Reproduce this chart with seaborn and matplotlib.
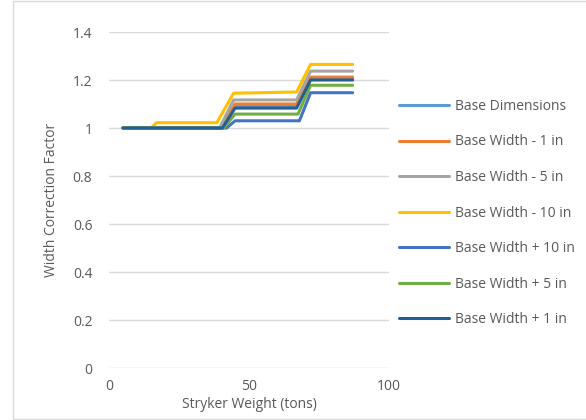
import matplotlib
matplotlib.use("Agg")
import matplotlib.pyplot as plt
import seaborn as sns
import pandas as pd
from matplotlib.patches import Rectangle

sns.set_theme(style="white")
plt.rcParams['font.family'] = ['Open Sans', 'DejaVu Sans']

series_names = ["Base Dimensions", "Base Width - 1 in", "Base Width - 5 in",
                "Base Width - 10 in", "Base Width + 10 in", "Base Width + 5 in",
                "Base Width + 1 in"]
colors = ["#5B9BD5", "#ED7D31", "#A5A5A5", "#FFC000", "#4472C4", "#70AD47", "#255E91"]

x_base = [5, 15, 17, 40, 45, 67, 72, 87]
x_m1 = [5, 15, 17, 40, 45, 67, 72, 87]
x_m5 = [5, 15, 17, 39.5, 44.5, 67, 72, 87]
x_m10 = [5, 15, 17, 38.5, 44.5, 67, 72, 87]
x_p10 = [5, 15, 17, 42, 45, 68, 72, 87]
x_p5 = [5, 15, 17, 41, 45, 67.5, 72, 87]
x_p1 = [5, 15, 17, 40.5, 45, 67, 72, 87]

y_base = [1.0, 1.0, 1.0, 1.0, 1.09, 1.09, 1.205, 1.205]
y_m1 = [1.0, 1.0, 1.0, 1.0, 1.10, 1.10, 1.212, 1.212]
y_m5 = [1.0, 1.0, 1.0, 1.0, 1.117, 1.117, 1.237, 1.237]
y_m10 = [1.0, 1.0, 1.022, 1.022, 1.145, 1.15, 1.265, 1.265]
y_p10 = [1.0, 1.0, 1.0, 1.0, 1.03, 1.03, 1.147, 1.147]
y_p5 = [1.0, 1.0, 1.0, 1.0, 1.058, 1.058, 1.178, 1.178]
y_p1 = [1.0, 1.0, 1.0, 1.0, 1.083, 1.083, 1.20, 1.20]

xs = [x_base, x_m1, x_m5, x_m10, x_p10, x_p5, x_p1]
ys = [y_base, y_m1, y_m5, y_m10, y_p10, y_p5, y_p1]

rows = []
for name, xv, yv in zip(series_names, xs, ys):
    for a, b in zip(xv, yv):
        rows.append({"Series": name, "x": a, "y": b})
df = pd.DataFrame(rows)

fig = plt.figure(figsize=(5.86, 4.2), dpi=100)
ax = fig.add_axes([109/586, 52/420, 280/586, 336/420])

sns.lineplot(data=df, x="x", y="y", hue="Series", hue_order=series_names,
             palette=colors, linewidth=2.2, ax=ax, sort=False, estimator=None,
             legend=True)

ax.set_xlim(0, 100)
ax.set_ylim(0, 1.4)
ax.set_xticks([0, 50, 100])
ax.set_yticks([0, 0.2, 0.4, 0.6, 0.8, 1.0, 1.2, 1.4])
ax.set_yticklabels(["0", "0.2", "0.4", "0.6", "0.8", "1", "1.2", "1.4"])
ax.grid(axis="y", color="#D9D9D9", linewidth=1)
ax.set_axisbelow(True)
for s in ax.spines.values():
    s.set_visible(False)
ax.tick_params(axis="both", colors="#595959", labelsize=10, length=0)
ax.tick_params(axis="x", pad=8)
ax.tick_params(axis="y", pad=12)
ax.set_xlabel("Stryker Weight (tons)", color="#595959", fontsize=10, labelpad=2)
ax.set_ylabel("Width Correction Factor", color="#595959", fontsize=10, labelpad=10)

handles, labels = ax.get_legend_handles_labels()
ax.legend(handles, labels, loc="center left", bbox_to_anchor=(386/586, 207/420),
          bbox_transform=fig.transFigure, frameon=False, fontsize=10,
          labelcolor="#595959", handlelength=3.6, handletextpad=0.45,
          labelspacing=1.48)

fig.patches.append(Rectangle((13/586, 1/420), 580/586, 418/420, transform=fig.transFigure,
                             fill=False, edgecolor="#D9D9D9", linewidth=1))

fig.savefig("out.png", dpi=100, facecolor="white")
